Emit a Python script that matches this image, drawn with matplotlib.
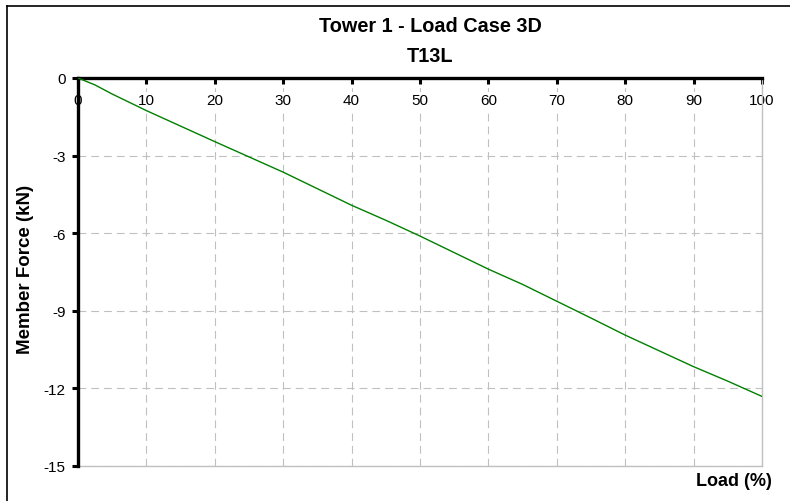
import matplotlib
matplotlib.use('Agg')
import matplotlib.pyplot as plt
from matplotlib.lines import Line2D

plt.rcParams['font.family'] = ['Liberation Sans', 'DejaVu Sans']

# load steps (%) and member force (kN)
load = [0, 2.5, 5, 10, 15, 20, 25, 30, 35, 40, 45, 50, 55, 60, 65, 70, 75, 80, 85, 90, 95, 100]
force = [0, -0.27, -0.62, -1.26, -1.86, -2.46, -3.05, -3.64, -4.28, -4.92, -5.50, -6.11,
         -6.75, -7.39, -7.98, -8.63, -9.28, -9.94, -10.55, -11.16, -11.72, -12.31]

x_ticks = [0, 10, 20, 30, 40, 50, 60, 70, 80, 90, 100]
y_ticks = [0, -3, -6, -9, -12, -15]

fig = plt.figure(figsize=(7.9, 5.02), dpi=100)
ax = fig.add_axes([78/790, 1 - 467/502, 684/790, 388/502])

ax.plot(load, force, color='#008000', lw=1.0, zorder=3)

ax.set_xlim(0, 100)
ax.set_ylim(-15, 0)
ax.set_xticks(x_ticks)
ax.set_yticks(y_ticks)
ax.set_yticklabels([str(v) for v in y_ticks])

ax.grid(True, color='#c0c0c0', lw=0.8, linestyle=(0, (7, 4.5)))
ax.set_axisbelow(True)

# x axis sits at force = 0 (top of the plot)
ax.spines['bottom'].set_position(('data', 0))
ax.spines['bottom'].set_linewidth(2.4)
ax.spines['left'].set_linewidth(2.4)
ax.spines['top'].set_visible(False)
ax.spines['right'].set_color('#c0c0c0')
ax.spines['right'].set_linewidth(1.0)
ax.add_line(Line2D([0, 100], [-15, -15], color='#c0c0c0', lw=1.0, clip_on=False, zorder=1))

ax.tick_params(axis='x', direction='out', length=4, width=2.2, pad=7, labelsize=11, colors='black')
ax.tick_params(axis='y', direction='out', length=4, width=2.2, pad=5, labelsize=11)
for lbl in ax.get_xticklabels():
    lbl.set_bbox(dict(facecolor='white', edgecolor='none', pad=1))
    lbl.set_zorder(4)

ax.set_ylabel('Member Force (kN)', fontsize=13.5, fontweight='bold')
ax.yaxis.set_label_coords(-0.065, 0.51)

fig.text(772/790, 1 - 482/502, 'Load (%)', ha='right', va='center', fontsize=13, fontweight='bold')
fig.text(430/790, 1 - 27/502, 'Tower 1 - Load Case 3D', ha='center', va='center', fontsize=14.3, fontweight='bold')
fig.text(430/790, 1 - 56/502, 'T13L', ha='center', va='center', fontsize=14.3, fontweight='bold')

# outer chart frame
fig.add_artist(Line2D([7/790, 7/790], [0, 1 - 7/502], color='black', lw=1.2, transform=fig.transFigure))
fig.add_artist(Line2D([7/790, 1], [1 - 7/502, 1 - 7/502], color='black', lw=1.2, transform=fig.transFigure))

fig.savefig('out.png', dpi=100)
